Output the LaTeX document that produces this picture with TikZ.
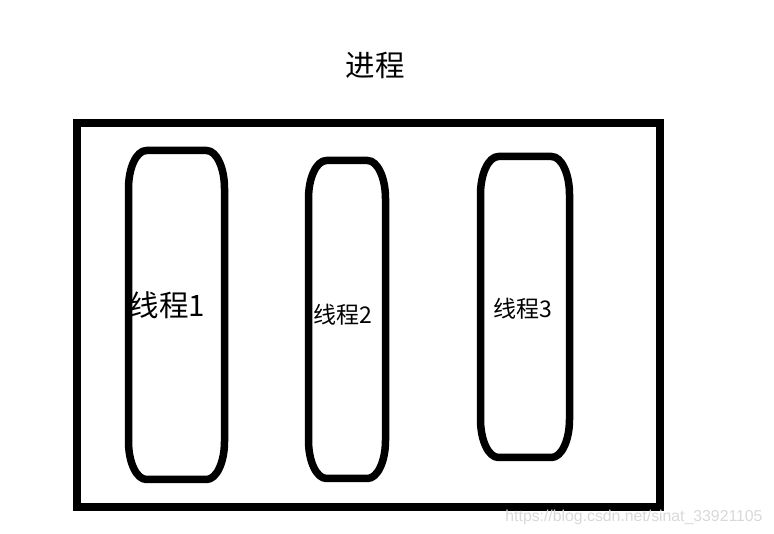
\documentclass[tikz,border=0pt]{standalone}
\usepackage{fontspec}
\setmainfont{Liberation Sans}
\newfontfamily\cjk{Noto Sans CJK SC}
\usetikzlibrary{calc}
\tikzset{
  procbox/.style={draw=black, line width=8pt, inner sep=0pt, outer sep=0pt},
  tholder/.style={inner sep=0pt, outer sep=0pt},
  toutline/.style={draw=black, line width=7.5pt, line join=round},
  tlabel/.style={inner sep=0pt, font=\cjk},
  wmark/.style={inner sep=0pt, text=black!15, font=\fontsize{15.8}{17}\selectfont}
}
\begin{document}
\begin{tikzpicture}[x=1pt,y=1pt]
\fill[white] (0,0) rectangle (774,534);
\useasboundingbox (0,0) rectangle (774,534);
% title
\node[tlabel, font=\cjk\fontsize{29.5}{32}\selectfont] (title) at (375,469) {进程};
% process box
\node[procbox, minimum width=582.5pt, minimum height=384pt] (proc) at (368.25,219) {};
% thread shapes
\node[tholder, minimum width=96pt, minimum height=329pt] (t1) at (176.5,219) {};
\node[tholder, minimum width=77pt, minimum height=318pt] (t2) at (347,214.5) {};
\node[tholder, minimum width=89pt, minimum height=301pt] (t3) at (525,227) {};
\foreach \n in {t1,t2,t3}{
  \draw[toutline]
    ($(\n.north west)+(0,-38)$) arc[start angle=180,end angle=90,x radius=18,y radius=38]
    -- ($(\n.north east)+(-18,0)$) arc[start angle=90,end angle=0,x radius=18,y radius=38]
    -- ($(\n.south east)+(0,38)$) arc[start angle=0,end angle=-90,x radius=18,y radius=38]
    -- ($(\n.south west)+(18,0)$) arc[start angle=-90,end angle=-180,x radius=18,y radius=38]
    -- cycle;
}
% labels
\node[tlabel, font=\cjk\fontsize{29.5}{32}\selectfont] (l1) at (167.5,229) {线程1};
\node[tlabel, font=\cjk\fontsize{23}{25}\selectfont] (l2) at (342.5,219) {线程2};
\node[tlabel, font=\cjk\fontsize{23}{25}\selectfont] (l3) at (522.5,225.5) {线程3};
% watermark
\node[wmark] (wm) at (634,17) {https://blog.csdn.net/sinat\_33921105};
\end{tikzpicture}
\end{document}
